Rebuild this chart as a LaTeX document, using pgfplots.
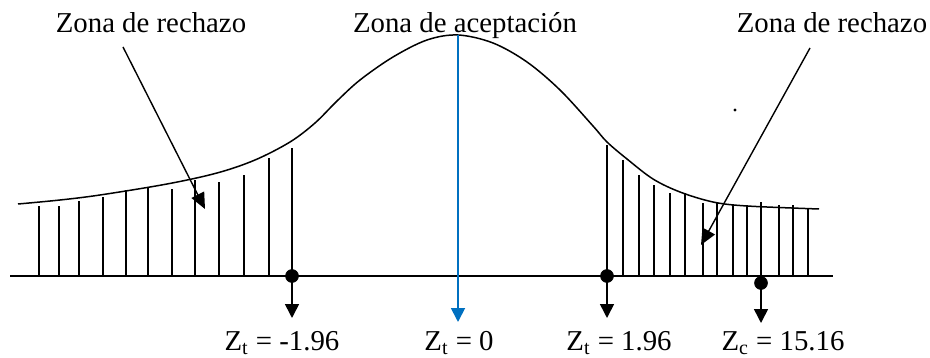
\documentclass[border=0pt]{standalone}
\usepackage{pgfplots}
\pgfplotsset{compat=1.18}
\usepackage{fontspec}
\setmainfont{Liberation Serif}
\usetikzlibrary{arrows.meta}
\definecolor{wordblue}{RGB}{0,112,192}
\begin{document}
\begin{tikzpicture}[every node/.style={font=\fontsize{14.4}{17}\selectfont}]
\begin{axis}[
  scale only axis, width=465pt, height=179pt,
  xmin=0, xmax=930, ymin=-82, ymax=276,
  hide axis, clip=false,
]
% normal-like curve
\addplot[black, line width=0.75pt, smooth, tension=0.55] coordinates {
 (18,72) (60,76) (100,81) (167,92) (217,103) (255,116) (290,134)
 (315,153) (337,175) (360,196) (393,219) (427,236) (458,241) (493,233)
 (527,214) (560,186) (593,150) (607,134) (627,117) (653,97) (680,84)
 (713,74) (747,70) (819,67)};
% baseline
\addplot[black, line width=0.8pt] coordinates {(10,0) (833,0)};
% rejection hatch, left
\addplot[black, line width=0.9pt, ycomb] coordinates {
 (39,70) (59,70) (79,75) (103,79) (126,86) (148,89) (172,87) (195,96)
 (219,94) (244,101) (269,118) (292,128)};
% rejection hatch, right
\addplot[black, line width=0.9pt, ycomb] coordinates {
 (607,131) (623,116) (639,101) (654,91) (670,83) (685,83) (703,73) (717,73)
 (733,71) (747,71) (761,74) (779,71) (793,71) (808,68)};
% blue centre line
\addplot[wordblue, line width=0.9pt, -{Triangle[width=7pt,length=7pt]}] coordinates {(458,241) (458,-46)};
% arrows down from critical points
\addplot[black, line width=0.8pt, -{Triangle[width=7pt,length=7pt]}] coordinates {(292,0) (292,-42)};
\addplot[black, line width=0.8pt, -{Triangle[width=7pt,length=7pt]}] coordinates {(607,0) (607,-42)};
\addplot[black, line width=0.8pt, -{Triangle[width=7pt,length=7pt]}] coordinates {(761,-7) (761,-47)};
% dots
\addplot[only marks, mark=*, mark size=3.2pt, black] coordinates {(292,0) (607,0) (761,-7)};
\addplot[only marks, mark=*, mark size=0.5pt, black] coordinates {(735,166)};
% pointer arrows
\addplot[black, line width=0.7pt, -{Triangle[width=7pt,length=8pt]}] coordinates {(123,229) (205,67)};
\addplot[black, line width=0.7pt, -{Triangle[width=7pt,length=8pt]}] coordinates {(810,228) (701,31)};
% labels
\node[anchor=base] at (axis cs:151,243) {Zona de rechazo};
\node[anchor=base] at (axis cs:465,243) {Zona de aceptación};
\node[anchor=base] at (axis cs:832,243) {Zona de rechazo};
\node[anchor=base] at (axis cs:282,-74) {Z\textsubscript{t} = -1.96};
\node[anchor=base] at (axis cs:459,-74) {Z\textsubscript{t} = 0};
\node[anchor=base] at (axis cs:619,-74) {Z\textsubscript{t} = 1.96};
\node[anchor=base] at (axis cs:783,-74) {Z\textsubscript{c} = 15.16};
\end{axis}
\pgfresetboundingbox
\path (current axis.south west) rectangle (current axis.north east);
\end{tikzpicture}
\end{document}
